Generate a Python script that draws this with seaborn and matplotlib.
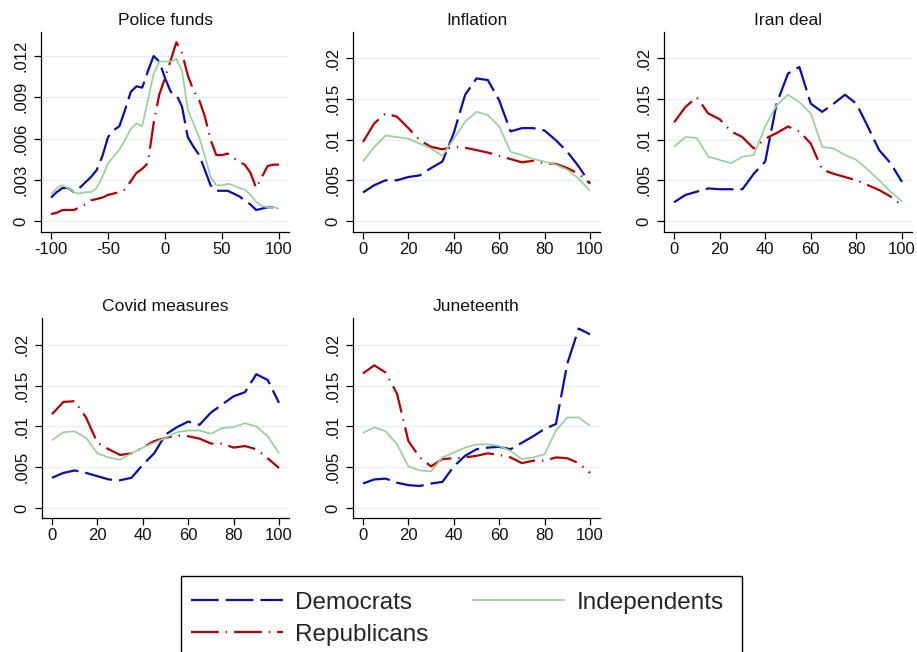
import matplotlib
matplotlib.use("Agg")
import matplotlib.pyplot as plt
from matplotlib.patches import Rectangle
import seaborn as sns
import numpy as np
import pandas as pd

# ---- data: density of feeling-thermometer gaps by party ----
x_wide = [-100, -95, -90, -85, -80, -75, -70, -65, -60, -55, -50, -45, -40, -35, -30,
          -25, -20, -15, -10, -5, 0, 5, 10, 15, 20, 25, 30, 35, 40, 45, 50, 55, 60,
          65, 70, 75, 80, 85, 90, 95, 100]
x_unit = [0, 5, 10, 15, 20, 25, 30, 35, 40, 45, 50, 55, 60, 65, 70, 75, 80, 85, 90, 95, 100]

police_dem = [0.0017, 0.0021, 0.0024, 0.0024, 0.0021, 0.0024, 0.0028, 0.0032, 0.0037, 0.0047,
              0.0061, 0.0066, 0.0069, 0.0081, 0.0094, 0.0098, 0.0097, 0.0109, 0.0120, 0.0116,
              0.0104, 0.0094, 0.0092, 0.0083, 0.0061, 0.0054, 0.0048, 0.0037, 0.0026, 0.0022,
              0.0022, 0.0022, 0.0020, 0.0018, 0.0015, 0.0012, 0.0008, 0.0009, 0.0010, 0.0010,
              0.0010]
police_rep = [0.0005, 0.0006, 0.0008, 0.0008, 0.0008, 0.0010, 0.0012, 0.0015, 0.0016, 0.0017,
              0.0019, 0.0020, 0.0021, 0.0023, 0.0029, 0.0035, 0.0038, 0.0042, 0.0071, 0.0092,
              0.0104, 0.0117, 0.0130, 0.0122, 0.0106, 0.0095, 0.0088, 0.0076, 0.0059, 0.0048,
              0.0048, 0.0049, 0.0046, 0.0043, 0.0041, 0.0035, 0.0024, 0.0032, 0.0040, 0.0041,
              0.0041]
police_ind = [0.0019, 0.0024, 0.0026, 0.0024, 0.0021, 0.0020, 0.0021, 0.0021, 0.0024, 0.0032,
              0.0042, 0.0047, 0.0052, 0.0059, 0.0067, 0.0071, 0.0069, 0.0088, 0.0107, 0.0116,
              0.0116, 0.0116, 0.0118, 0.0109, 0.0081, 0.0071, 0.0061, 0.0047, 0.0032, 0.0026,
              0.0026, 0.0027, 0.0026, 0.0024, 0.0023, 0.0019, 0.0014, 0.0011, 0.0010, 0.0010,
              0.0009]

inflation_dem = [0.0035, 0.0044, 0.0050, 0.0050, 0.0054, 0.0056, 0.0065, 0.0073, 0.0108, 0.0155,
                 0.0175, 0.0173, 0.0148, 0.0110, 0.0114, 0.0114, 0.0111, 0.0099, 0.0085, 0.0067,
                 0.0046]
inflation_rep = [0.0097, 0.0120, 0.0132, 0.0128, 0.0114, 0.0099, 0.0091, 0.0088, 0.0091, 0.0090,
                 0.0087, 0.0084, 0.0080, 0.0076, 0.0072, 0.0074, 0.0071, 0.0070, 0.0065, 0.0058,
                 0.0046]
inflation_ind = [0.0073, 0.0091, 0.0105, 0.0103, 0.0101, 0.0095, 0.0089, 0.0080, 0.0101, 0.0122,
                 0.0134, 0.0130, 0.0116, 0.0085, 0.0081, 0.0076, 0.0073, 0.0069, 0.0063, 0.0052,
                 0.0037]

iran_dem = [0.0023, 0.0032, 0.0036, 0.0040, 0.0039, 0.0039, 0.0039, 0.0058, 0.0073, 0.0144,
            0.0181, 0.0189, 0.0144, 0.0134, 0.0144, 0.0155, 0.0144, 0.0116, 0.0087, 0.0071,
            0.0048]
iran_rep = [0.0121, 0.0140, 0.0152, 0.0132, 0.0125, 0.0110, 0.0103, 0.0089, 0.0101, 0.0108,
            0.0116, 0.0110, 0.0095, 0.0063, 0.0058, 0.0054, 0.0050, 0.0044, 0.0038, 0.0030,
            0.0019]
iran_ind = [0.0091, 0.0103, 0.0102, 0.0079, 0.0075, 0.0071, 0.0079, 0.0081, 0.0116, 0.0142,
            0.0155, 0.0146, 0.0132, 0.0091, 0.0089, 0.0081, 0.0075, 0.0063, 0.0050, 0.0036,
            0.0024]

covid_dem = [0.0037, 0.0043, 0.0046, 0.0043, 0.0039, 0.0035, 0.0034, 0.0037, 0.0053, 0.0067,
             0.0090, 0.0099, 0.0106, 0.0102, 0.0117, 0.0127, 0.0137, 0.0142, 0.0164, 0.0157,
             0.0129]
covid_rep = [0.0115, 0.0130, 0.0131, 0.0111, 0.0080, 0.0072, 0.0065, 0.0067, 0.0074, 0.0082,
             0.0086, 0.0089, 0.0088, 0.0085, 0.0079, 0.0079, 0.0074, 0.0076, 0.0072, 0.0061,
             0.0049]
covid_ind = [0.0083, 0.0093, 0.0094, 0.0086, 0.0067, 0.0062, 0.0059, 0.0067, 0.0074, 0.0080,
             0.0086, 0.0093, 0.0095, 0.0095, 0.0091, 0.0098, 0.0099, 0.0104, 0.0100, 0.0088,
             0.0067]

june_dem = [0.0030, 0.0035, 0.0036, 0.0031, 0.0028, 0.0027, 0.0030, 0.0032, 0.0051, 0.0064,
            0.0072, 0.0074, 0.0075, 0.0072, 0.0080, 0.0088, 0.0097, 0.0103, 0.0177, 0.0220,
            0.0213]
june_rep = [0.0165, 0.0175, 0.0166, 0.0140, 0.0082, 0.0062, 0.0051, 0.0060, 0.0061, 0.0062,
            0.0064, 0.0067, 0.0065, 0.0062, 0.0055, 0.0058, 0.0058, 0.0062, 0.0061, 0.0055,
            0.0043]
june_ind = [0.0092, 0.0099, 0.0094, 0.0078, 0.0051, 0.0046, 0.0045, 0.0062, 0.0068, 0.0074,
            0.0078, 0.0078, 0.0076, 0.0070, 0.0060, 0.0062, 0.0066, 0.0095, 0.0111, 0.0111,
            0.0101]

titles = ["Police funds", "Inflation", "Iran deal", "Covid measures", "Juneteenth"]
parties = ["Democrats", "Republicans", "Independents"]

# ---- styling ----
sns.set_theme(style="white")
plt.rcParams["font.family"] = ["Liberation Sans", "DejaVu Sans"]
plt.rcParams["lines.scale_dashes"] = False

party_style = {
    "Democrats": dict(color="#0b0bb8", lw=1.6, ls=(0, (20, 5))),
    "Republicans": dict(color="#b80000", lw=1.6, ls=(0, (20, 5, 1, 5))),
    "Independents": dict(color="#98d298", lw=1.25, ls="-"),
}

W, H = 917, 652
fig = plt.figure(figsize=(W / 100, H / 100), dpi=100)
fig.patch.set_facecolor("white")


def rect(left, top, right, bottom):
    return [left / W, (H - bottom) / H, (right - left) / W, (bottom - top) / H]


panels = [
    dict(title=titles[0], rect=rect(41, 32, 289, 232), x=x_wide,
         series=[police_dem, police_rep, police_ind],
         xlim=(-108.8, 108.8), xticks=[-100, -50, 0, 50, 100],
         xlabels=["-100", "-50", "0", "50", "100"],
         ylim=(-0.0008, 0.01375), yticks=[0, 0.003, 0.006, 0.009, 0.012],
         ylabels=["0", ".003", ".006", ".009", ".012"]),
    dict(title=titles[1], rect=rect(353, 32, 600, 232), x=x_unit,
         series=[inflation_dem, inflation_rep, inflation_ind]),
    dict(title=titles[2], rect=rect(664, 32, 912, 232), x=x_unit,
         series=[iran_dem, iran_rep, iran_ind]),
    dict(title=titles[3], rect=rect(42, 318, 289, 518), x=x_unit,
         series=[covid_dem, covid_rep, covid_ind], ylim=(-0.00123, 0.0233)),
    dict(title=titles[4], rect=rect(353, 318, 600, 518), x=x_unit,
         series=[june_dem, june_rep, june_ind], ylim=(-0.00123, 0.0233)),
]

unit_ticks = [0, 20, 40, 60, 80, 100]
share_yticks = [0, 0.005, 0.01, 0.015, 0.02]
share_ylabels = ["0", ".005", ".01", ".015", ".02"]

handles = None
for p in panels:
    ax = fig.add_axes(p["rect"])
    ax.set_facecolor("white")
    for party, vals in zip(parties, p["series"]):
        st = party_style[party]
        df = pd.DataFrame({"x": p["x"], "density": vals})
        sns.lineplot(data=df, x="x", y="density", ax=ax, color=st["color"],
                     linewidth=st["lw"], linestyle=st["ls"], label=party,
                     legend=False, dash_capstyle="butt", solid_capstyle="butt")
    if handles is None:
        handles = ax.get_lines()

    ax.set_xlim(*p.get("xlim", (-4.4, 104.4)))
    ax.set_ylim(*p.get("ylim", (-0.00135, 0.0232)))
    ax.set_xticks(p.get("xticks", unit_ticks))
    ax.set_xticklabels(p.get("xlabels", [str(t) for t in unit_ticks]))
    ax.set_yticks(p.get("yticks", share_yticks))
    ax.set_yticklabels(p.get("ylabels", share_ylabels), rotation=90, va="center")
    ax.set_xlabel("")
    ax.set_ylabel("")
    ax.set_title(p["title"], fontsize=12.6, pad=5, color="#111111")

    ax.grid(axis="y", color="#e6eff1", linewidth=1.0)
    ax.grid(axis="x", visible=False)
    ax.set_axisbelow(True)
    for side in ["top", "right"]:
        ax.spines[side].set_visible(False)
    for side in ["left", "bottom"]:
        ax.spines[side].set_color("#000000")
        ax.spines[side].set_linewidth(0.9)
    ax.tick_params(axis="both", which="major", direction="out", length=5, width=0.9,
                   color="#000000", labelsize=12, labelcolor="#111111")
    ax.tick_params(axis="x", pad=2.5)
    ax.tick_params(axis="y", pad=4)
    ax.tick_params(left=True, bottom=True)

# legend entries, with the surrounding box drawn as its own frame
leg = fig.legend(handles, parties, loc="upper left",
                 bbox_to_anchor=(181 / W, (H - 582) / H), ncol=2, fontsize=17.5,
                 frameon=False, borderpad=0.4, handlelength=3.8, handletextpad=0.5,
                 columnspacing=1.8, labelspacing=0.42, borderaxespad=0)
fig.patches.append(Rectangle((181 / W, (H - 670) / H), (742 - 181) / W, 94 / H,
                             transform=fig.transFigure, fill=False,
                             edgecolor="#000000", linewidth=1.0))

fig.savefig("out.png", dpi=100, facecolor="white")
